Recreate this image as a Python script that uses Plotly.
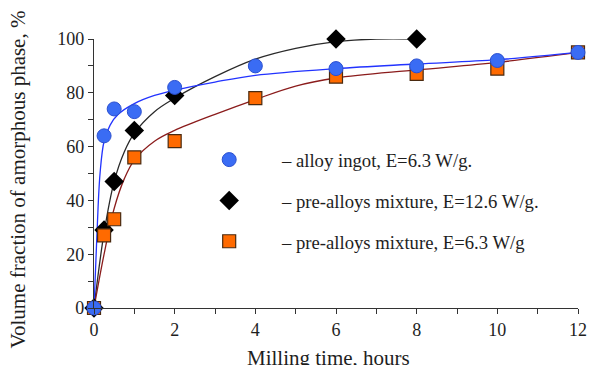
import plotly.graph_objects as go

# ---- data ----
t_ingot = [0, 0.25, 0.5, 1, 2, 4, 6, 8, 10, 12]
v_ingot = [0, 64, 74, 73, 82, 90, 89, 90, 92, 95]

t_mix126 = [0, 0.25, 0.5, 1, 2, 6, 8]
v_mix126 = [0, 29, 47, 66, 79, 100, 100]

t_mix63 = [0, 0.25, 0.5, 1, 2, 4, 6, 8, 10, 12]
v_mix63 = [0, 27, 33, 56, 62, 78, 86, 87, 89, 95]

# fitted curves
ct_ingot = [0, 0.08, 0.15, 0.25, 0.4, 0.6, 1, 1.5, 2, 3, 4, 6, 8, 10, 12]
cv_ingot = [0, 30, 50, 62, 68, 72, 76, 79, 81, 84, 86.5, 89, 90.7, 92.3, 95]

ct_mix126 = [0, 0.25, 0.5, 0.75, 1, 1.5, 2, 3, 4, 5, 6, 7, 8]
cv_mix126 = [0, 28, 47, 58, 65, 73, 78, 86, 92.5, 96.5, 99, 100, 100]

ct_mix63 = [0, 0.25, 0.5, 0.75, 1, 1.5, 2, 3, 4, 5, 6, 8, 10, 12]
cv_mix63 = [0, 20, 37, 48, 55, 62, 66, 72, 77.5, 82.5, 85.5, 88.5, 91.3, 95]

PAD = "\u00a0" * 7
names = [PAD + "– alloy ingot, E=6.3 W/g.",
         PAD + "– pre-alloys mixture, E=12.6 W/g.",
         PAD + "– pre-alloys mixture, E=6.3 W/g"]

x_ticks = [0, 2, 4, 6, 8, 10, 12]
y_ticks = [0, 20, 40, 60, 80, 100]

FONT = "Liberation Serif"
TXT = "#1e1e1e"

fig = go.Figure()

# curves
fig.add_trace(go.Scatter(x=ct_mix126, y=cv_mix126, mode="lines", line=dict(color="#2a2a2a", width=1.3, shape="spline", smoothing=1.0), showlegend=False, hoverinfo="skip"))
fig.add_trace(go.Scatter(x=ct_mix63, y=cv_mix63, mode="lines", line=dict(color="#8b1c1c", width=1.3, shape="spline", smoothing=1.0), showlegend=False, hoverinfo="skip"))
fig.add_trace(go.Scatter(x=ct_ingot, y=cv_ingot, mode="lines", line=dict(color="#2233ff", width=1.3, shape="spline", smoothing=1.0), showlegend=False, hoverinfo="skip"))

# markers
fig.add_trace(go.Scatter(x=t_mix126, y=v_mix126, mode="markers", name=names[1], legendgroup="b", legendrank=2,
                         marker=dict(symbol="diamond", size=15, color="black", line=dict(color="black", width=0)), cliponaxis=False))
fig.add_trace(go.Scatter(x=t_mix63, y=v_mix63, mode="markers", name=names[2], legendgroup="c", legendrank=3,
                         marker=dict(symbol="square", size=13, color="#ff6a00", line=dict(color="#4a2a10", width=1.2)), cliponaxis=False))
fig.add_trace(go.Scatter(x=t_ingot, y=v_ingot, mode="markers", name=names[0], legendgroup="a", legendrank=1,
                         marker=dict(symbol="circle", size=14, color="#3a6cf4", line=dict(color="#2a4fd0", width=1)), cliponaxis=False))

fig.update_layout(
    width=601, height=365,
    margin=dict(l=86, r=31, t=31, b=65),
    paper_bgcolor="white", plot_bgcolor="white",
    font=dict(family=FONT, size=18, color=TXT),
    legend=dict(x=0.238, y=0.621, xanchor="left", yanchor="top", bgcolor="rgba(0,0,0,0)",
                font=dict(family=FONT, size=18.7, color=TXT),
                traceorder="grouped", tracegroupgap=13.5, itemsizing="trace"),
    xaxis=dict(range=[0, 12], tickvals=x_ticks, ticks="outside", ticklen=5, tickwidth=1,
               tickcolor="#333", showline=True, linecolor="#333", linewidth=1.2, showgrid=False,
               zeroline=False, minor=dict(dtick=1, ticks="outside", ticklen=5, tickcolor="#333"),
               tickfont=dict(family=FONT, size=18)),
    yaxis=dict(range=[0, 100], tickvals=y_ticks, ticks="outside", ticklen=5, tickwidth=1,
               tickcolor="#333", showline=True, linecolor="#333", linewidth=1.2, showgrid=False,
               zeroline=False, minor=dict(dtick=10, ticks="outside", ticklen=5, tickcolor="#333"),
               tickfont=dict(family=FONT, size=18)),
    annotations=[
        dict(text="Milling time, hours", xref="paper", yref="paper", x=0.4845, y=-0.186, xanchor="center",
             yanchor="middle", showarrow=False, font=dict(family=FONT, size=21, color=TXT)),
        dict(text="Volume fraction of amorphous phase, %", xref="paper", yref="paper", x=-0.157, y=0.478,
             xanchor="center", yanchor="middle", textangle=-90, showarrow=False,
             font=dict(family=FONT, size=21, color=TXT)),
    ],
)

fig.write_html("out.html")
